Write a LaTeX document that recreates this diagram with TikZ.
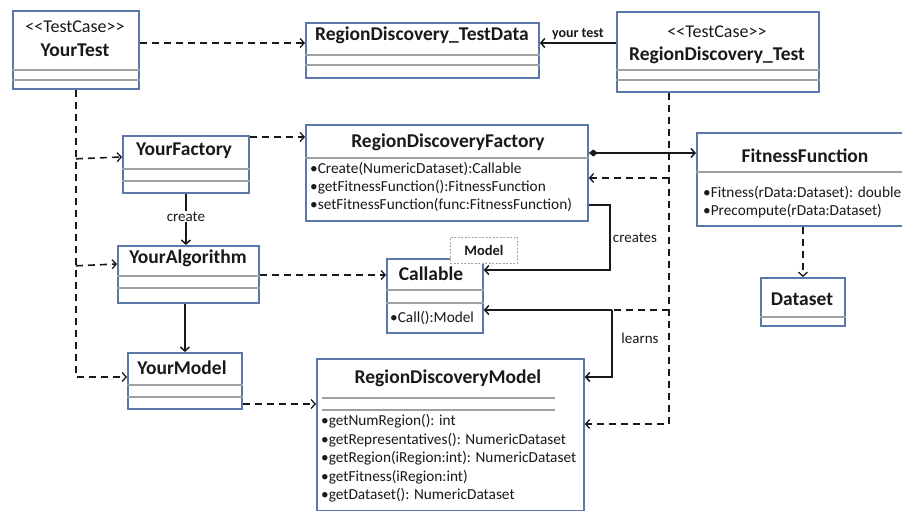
\documentclass[tikz,border=0pt]{standalone}
\usepackage{fontspec}
\setmainfont{Carlito}
\usetikzlibrary{arrows.meta,calc}
\definecolor{boxblue}{RGB}{90,120,170}
\definecolor{sepgray}{RGB}{160,160,160}
\definecolor{ink}{RGB}{25,25,25}
\begin{document}
\begin{tikzpicture}[x=1pt,y=-1pt,
 cls/.style={draw=boxblue,line width=1.8pt,fill=white,inner sep=0pt,anchor=north west},
 ttl/.style={font=\fontsize{19.5}{21}\selectfont\bfseries,text=ink,inner sep=0pt},
 stereo/.style={font=\fontsize{18}{20}\selectfont,text=ink,inner sep=0pt},
 mth/.style={font=\fontsize{15.3}{17}\selectfont,text=ink,inner sep=0pt,anchor=west},
 lbl/.style={font=\fontsize{15}{17}\selectfont,text=ink,inner sep=1pt},
 sep/.style={draw=sepgray,line width=1.2pt},
 dep/.style={draw=ink,line width=1.6pt,dash pattern=on 7pt off 5pt,-{Straight Barb[length=4pt,width=9pt,line width=1.3pt]}},
 dline/.style={draw=ink,line width=1.6pt,dash pattern=on 7pt off 5pt},
 assoc/.style={draw=ink,line width=1.7pt,-{Straight Barb[length=4pt,width=9pt,line width=1.5pt]}},
 comp/.style={draw=ink,line width=1.7pt,{Diamond[length=9pt,width=7pt]}-{Straight Barb[length=4pt,width=9pt,line width=1.5pt]}},
 tag/.style={draw=gray!70,line width=0.8pt,dash pattern=on 2pt off 1.5pt,fill=white,inner sep=0pt,anchor=north west,minimum width=67pt,minimum height=26pt,font=\fontsize{14.5}{16}\selectfont\bfseries,text=ink}
]
\useasboundingbox (0,0) rectangle (902,511);
\clip (0,0) rectangle (902,511);
\fill[white] (0,0) rectangle (902,511);

% ---- classes ----
\node[cls,minimum width=126pt,minimum height=78pt] (yt) at (12,10) {};
\node[stereo] (ytS) at (75,27) {<\kern0pt<TestCase>\kern0pt>};
\node[ttl] (ytT) at (75,50) {YourTest};
\draw[sep] ($(yt.north west)+(0,60)$) -- ($(yt.north east)+(0,60)$);
\draw[sep] ($(yt.north west)+(0,70)$) -- ($(yt.north east)+(0,70)$);

\node[cls,minimum width=233pt,minimum height=55pt] (td) at (305,22) {};
\node[ttl] (tdT) at (422,35) {RegionDiscovery\_TestData};
\draw[sep] ($(td.north west)+(0,33)$) -- ($(td.north east)+(0,33)$);
\draw[sep] ($(td.north west)+(0,43)$) -- ($(td.north east)+(0,43)$);

\node[cls,minimum width=202pt,minimum height=80pt] (rt) at (616,11) {};
\node[stereo] (rtS) at (717,32) {<\kern0pt<TestCase>\kern0pt>};
\node[ttl] (rtT) at (717,55) {RegionDiscovery\_Test};
\draw[sep] ($(rt.north west)+(0,59)$) -- ($(rt.north east)+(0,59)$);
\draw[sep] ($(rt.north west)+(0,69)$) -- ($(rt.north east)+(0,69)$);

\node[cls,minimum width=126pt,minimum height=57pt] (yf) at (122,135) {};
\node[ttl] (yfT) at (184,151) {YourFactory};
\draw[sep] ($(yf.north west)+(0,34)$) -- ($(yf.north east)+(0,34)$);
\draw[sep] ($(yf.north west)+(0,46)$) -- ($(yf.north east)+(0,46)$);

\node[cls,minimum width=141pt,minimum height=57pt] (ya) at (117,245) {};
\node[ttl] (yaT) at (188,258) {YourAlgorithm};
\draw[sep] ($(ya.north west)+(0,31)$) -- ($(ya.north east)+(0,31)$);
\draw[sep] ($(ya.north west)+(0,43)$) -- ($(ya.north east)+(0,43)$);

\node[cls,minimum width=114pt,minimum height=56pt] (ym) at (127,352) {};
\node[ttl] (ymT) at (182,368) {YourModel};
\draw[sep] ($(ym.north west)+(0,33)$) -- ($(ym.north east)+(0,33)$);
\draw[sep] ($(ym.north west)+(0,45)$) -- ($(ym.north east)+(0,45)$);

\node[cls,minimum width=282pt,minimum height=96pt] (rdf) at (305,124) {};
\node[ttl] (rdfT) at (448,142) {RegionDiscoveryFactory};
\draw[sep] ($(rdf.north west)+(0,34)$) -- ($(rdf.north east)+(0,34)$);
\node[mth] (rdf1) at (310,169) {•Create(NumericDataset):Callable};
\node[mth] (rdf2) at (310,187) {•getFitnessFunction():FitnessFunction};
\node[mth] (rdf3) at (310,205) {•setFitnessFunction(func:FitnessFunction)};

\node[cls,minimum width=96pt,minimum height=74pt] (cal) at (386,258) {};
\node[ttl] (calT) at (431,274) {Callable};
\draw[sep] ($(cal.north west)+(0,32)$) -- ($(cal.north east)+(0,32)$);
\draw[sep] ($(cal.north west)+(0,45)$) -- ($(cal.north east)+(0,45)$);
\node[mth] (cal1) at (390,318) {•Call():Model};
\node[tag] (mtag) at (450,237) {Model};

\node[cls,minimum width=267pt,minimum height=152pt] (rdm) at (316,358) {};
\node[ttl] (rdmT) at (448,378) {RegionDiscoveryModel};
\draw[sep] (322,398) -- (555,398);
\draw[sep] (322,410) -- (555,410);
\node[mth] (rdm1) at (321,421) {•getNumRegion(): int};
\node[mth] (rdm2) at (321,440) {•getRepresentatives(): NumericDataset};
\node[mth] (rdm3) at (321,458) {•getRegion(iRegion:int): NumericDataset};
\node[mth] (rdm4) at (321,477) {•getFitness(iRegion:int)};
\node[mth] (rdm5) at (321,495) {•getDataset(): NumericDataset};

\node[cls,minimum width=240pt,minimum height=93pt] (ff) at (696,132) {};
\node[ttl] (ffT) at (805,156) {FitnessFunction};
\draw[sep] ($(ff.north west)+(0,40)$) -- ($(ff.north east)+(0,40)$);
\node[mth] (ff1) at (703,193) {•Fitness(rData:Dataset): double};
\node[mth] (ff2) at (703,211) {•Precompute(rData:Dataset)};

\node[cls,minimum width=84pt,minimum height=48pt] (ds) at (760,277) {};
\node[ttl] (dsT) at (802,299) {Dataset};
\draw[sep] ($(ds.north west)+(0,40)$) -- ($(ds.north east)+(0,40)$);

% ---- connectors ----
\coordinate (a1) at ($(yt.north east)+(0,33)$);
\draw[dep] (a1) -- (a1 -| td.west);

\coordinate (a2) at ($(rt.north west)+(0,32)$);
\draw[assoc] (a2) -- (a2 -| td.east) node[lbl,midway,above=1pt,font=\fontsize{14}{16}\selectfont\bfseries] (ytl) {your test};

\draw[dep] (yt.south) |- ($(ym.north west)+(0,25)$);
\draw[dep] ($(yt.south)+(0,69)$) -- ($(yf.north west)+(0,22)$);
\draw[dep] ($(yt.south)+(0,176)$) -- ($(ya.north west)+(0,19)$);

\draw[dep] ($(yf.north east)+(0,2)$) -- ($(rdf.north west)+(0,13)$);

\draw[assoc] (yf.south) -- (yf.south |- ya.north) node[lbl,midway,fill=white,yshift=3pt] (crl) {create};
\coordinate (m1) at (ym.north);
\draw[assoc] (m1 |- ya.south) -- (m1);

\coordinate (a3) at ($(ya.north east)+(0,30)$);
\draw[dep] (a3) -- (a3 -| cal.west);

\coordinate (a4) at ($(ym.north east)+(0,52)$);
\draw[dep] (a4) -- (a4 -| rdm.west);

\coordinate (a5) at ($(rdf.north east)+(0,29)$);
\draw[comp] (a5) -- (a5 -| ff.west);

\coordinate (rtv) at ($(rt.south west)+(53,0)$);
\coordinate (rdmR) at ($(rdm.north east)+(0,66)$);
\draw[dep] (rtv) |- (rdmR);
\coordinate (rdfR) at ($(rdf.north east)+(0,54)$);
\draw[dep] (rdfR -| rtv) -- (rdfR);

\coordinate (lj) at (612,310);
\draw[dline] (lj -| rtv) -- (lj);
\draw[assoc] (lj) -- (lj -| cal.east);
\coordinate (rdmL) at ($(rdm.north east)+(0,19)$);
\draw[assoc] (lj) |- (rdmL);
\node[lbl] (lrn) at (640,338) {learns};

\coordinate (cs) at ($(rdf.north east)+(0,81)$);
\coordinate (ce) at ($(cal.north east)+(0,12)$);
\draw[assoc] (cs) -| ($(ce)+(126,0)$) -- (ce);
\node[lbl] (crs) at (635,238) {creates};

\draw[dep] (ds.north |- ff.south) -- (ds.north);
\end{tikzpicture}
\end{document}
